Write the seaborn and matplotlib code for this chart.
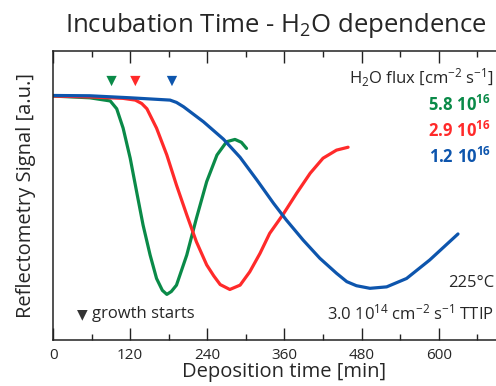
import numpy as np
import pandas as pd
import matplotlib
matplotlib.use('Agg')
import matplotlib.pyplot as plt
from matplotlib.ticker import MultipleLocator
import seaborn as sns

# values (time in min, signal in a.u.)
t_green = [0, 57, 89, 99, 109, 120, 130, 140, 151, 161, 170, 177, 184, 192, 208, 223, 239,
           255, 270, 283, 293, 301]
s_green = [0.844, 0.838, 0.827, 0.800, 0.733, 0.629, 0.513, 0.398, 0.294, 0.213, 0.172, 0.158,
           0.168, 0.190, 0.294, 0.421, 0.548, 0.640, 0.686, 0.694, 0.684, 0.663]

t_red = [0, 57, 109, 128, 138, 146, 161, 177, 192, 208, 223, 239, 250, 260, 275, 291, 306,
         322, 337, 358, 379, 400, 420, 441, 459]
s_red = [0.844, 0.841, 0.836, 0.830, 0.818, 0.800, 0.733, 0.640, 0.536, 0.433, 0.340, 0.260,
         0.222, 0.192, 0.175, 0.190, 0.236, 0.300, 0.369, 0.435, 0.508, 0.577, 0.629, 0.657,
         0.667]

t_blue = [0, 57, 120, 182, 192, 203, 234, 265, 291, 317, 343, 363, 389, 415, 441, 457, 472,
          493, 519, 550, 586, 630]
s_blue = [0.846, 0.845, 0.838, 0.830, 0.822, 0.807, 0.755, 0.695, 0.632, 0.554, 0.473, 0.415,
          0.346, 0.283, 0.231, 0.202, 0.188, 0.179, 0.184, 0.213, 0.277, 0.367]

start_times = [91, 128, 185]
start_level = 0.896
flux_labels = [r"$\mathbf{5.8\ 10^{16}}$", r"$\mathbf{2.9\ 10^{16}}$", r"$\mathbf{1.2\ 10^{16}}$"]
colors = ["#0a8a48", "#ff2a2a", "#0d55ad"]

sns.set_theme(style="ticks")
plt.rcParams['font.family'] = ['Open Sans', 'DejaVu Sans']
plt.rcParams['mathtext.fontset'] = 'custom'
plt.rcParams['mathtext.rm'] = 'Open Sans'
plt.rcParams['mathtext.bf'] = 'Open Sans:bold'
plt.rcParams['mathtext.it'] = 'Open Sans:italic'

fig = plt.figure(figsize=(4.96, 3.86), dpi=100)
ax = fig.add_axes([0.107, 0.119, 0.933, 0.749])

series = [(t_green, s_green), (t_red, s_red), (t_blue, s_blue)]
for (t, s), c in zip(series, colors):
    df = pd.DataFrame({"t": t, "s": s})
    sns.lineplot(data=df, x="t", y="s", color=c, lw=2.3, sort=False, ax=ax)

mk = pd.DataFrame({"t": start_times, "s": [start_level] * 3, "c": colors})
sns.scatterplot(data=mk, x="t", y="s", hue="c", palette=dict(zip(colors, colors)),
                marker="v", s=55, linewidth=0, legend=False, ax=ax)

ax.set_xlim(0, 720)
ax.set_ylim(0, 1)
ax.xaxis.set_minor_locator(MultipleLocator(60))
ax.set_xticks([0, 120, 240, 360, 480, 600, 720])
ax.set_xticklabels(["0", "120", "240", "360", "480", "600", ""])
ax.set_yticks([])
ax.tick_params(axis="x", which="major", direction="in", length=8.5, width=1, top=True,
               labelsize=11, pad=6, color="#222222")
ax.tick_params(axis="x", which="minor", direction="in", length=4.5, width=1, top=True,
               color="#222222")
for side in ["left", "bottom", "top"]:
    ax.spines[side].set_color("#222222")
    ax.spines[side].set_linewidth(1.1)
ax.spines["right"].set_visible(False)

ax.set_xlabel("Deposition time [min]", fontsize=14.5, labelpad=-1)
ax.set_ylabel("Reflectometry Signal [a.u.]", fontsize=14.5, labelpad=12)
fig.text(0.557, 0.935, r"Incubation Time - H$_2$O dependence", fontsize=18.5, ha="center",
         va="center")

fig.text(0.996, 0.798, r"H$_2$O flux [cm$^{-2}$ s$^{-1}$]", fontsize=12, ha="right", va="center")
for i, (lab, c) in enumerate(zip(flux_labels, colors)):
    fig.text(0.99, 0.728 - i * 0.067, lab, fontsize=12, color=c, ha="right", va="center")

fig.text(0.996, 0.267, "225°C", fontsize=12, ha="right", va="center")
fig.text(0.996, 0.187, r"3.0 10$^{14}$ cm$^{-2}$ s$^{-1}$ TTIP", fontsize=12, ha="right", va="center")
fig.text(0.155, 0.187, "▼", fontsize=10, color="#333333", ha="left", va="center",
         family=["DejaVu Sans"])
fig.text(0.185, 0.187, "growth starts", fontsize=12, ha="left", va="center")

fig.savefig("out.png", dpi=100)
